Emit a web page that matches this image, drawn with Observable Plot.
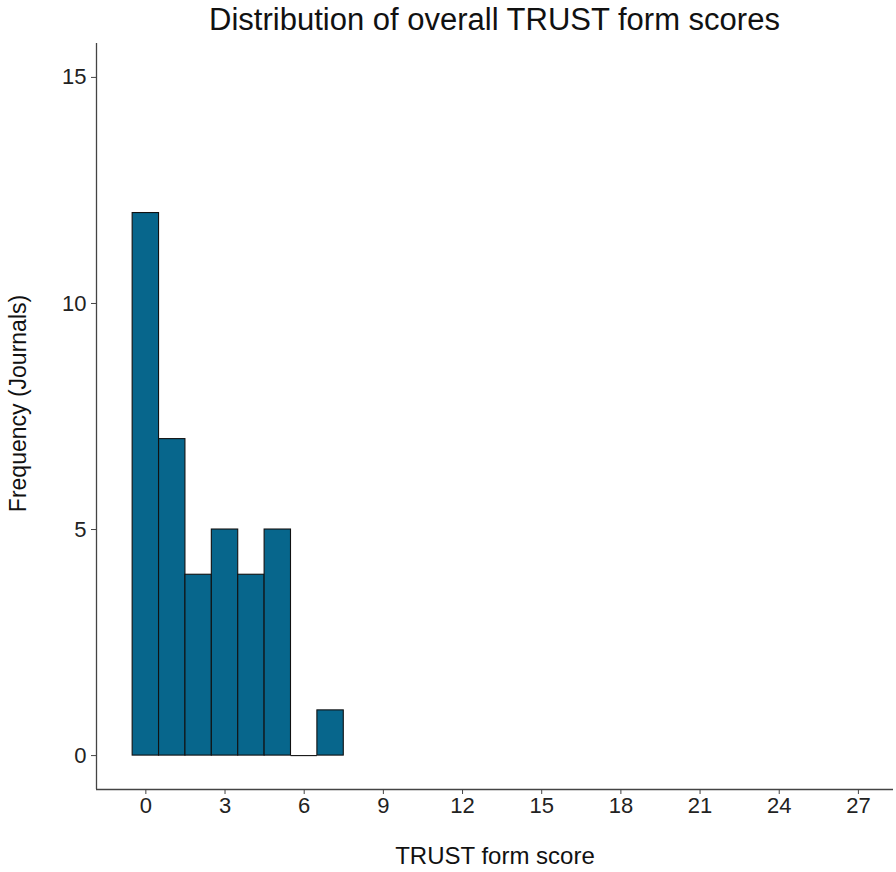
<!DOCTYPE html>
<html>
<head>
<meta charset="utf-8">
<script src="https://cdn.jsdelivr.net/npm/d3@7"></script>
<script src="https://cdn.jsdelivr.net/npm/@observablehq/plot@0.6"></script>
<style>
  html, body { margin: 0; padding: 0; background: #fff; }
  #wrap { width: 896px; height: 872px; position: relative; font-family: "Liberation Sans", Arial, sans-serif; }
  #title { height: 43px; line-height: 40px; font-size: 31px; color: #111; margin-left: 96px; width: 797px; text-align: center; white-space: nowrap; }
  svg { display: block; }
</style>
</head>
<body>
<div id="wrap">
  <div id="title">Distribution of overall TRUST form scores</div>
  <div id="chart"></div>
</div>
<script>
const title = "Distribution of overall TRUST form scores";
const xLabel = "TRUST form score";
const yLabel = "Frequency (Journals)";
const scores = [0, 1, 2, 3, 4, 5, 6, 7];
const counts = [12, 7, 4, 5, 4, 5, 0, 1];
const xTicks = [0, 3, 6, 9, 12, 15, 18, 21, 24, 27];
const yTicks = [0, 5, 10, 15];
const xDomain = [-1.87, 28.33];
const yDomain = [-0.75, 15.75];

const data = scores.map((s, i) => ({score: s, count: counts[i]}));
const barFill = "#07668c";

const chart = Plot.plot({
  width: 896,
  height: 829,
  marginLeft: 96,
  marginRight: 3,
  marginTop: 0,
  marginBottom: 83,
  style: {fontFamily: "'Liberation Sans', Arial, sans-serif", fontSize: "22px", color: "#222", background: "#fff"},
  x: {domain: xDomain},
  y: {domain: yDomain},
  marks: [
    Plot.rectY(data.filter(d => d.count > 0), {
      x1: d => d.score - 0.5, x2: d => d.score + 0.5, y1: 0, y2: "count",
      fill: barFill, stroke: "#111", strokeWidth: 1.1
    }),
    Plot.ruleY(data.filter(d => d.count === 0), {
      y: 0, x1: d => d.score - 0.5, x2: d => d.score + 0.5, stroke: "#111", strokeWidth: 1.1
    }),
    Plot.ruleX([xDomain[0]], {stroke: "#444", strokeWidth: 1.3}),
    Plot.ruleY([yDomain[0]], {stroke: "#444", strokeWidth: 1.3}),
    Plot.axisX(xTicks, {tickSize: 5, tickPadding: 3, fontSize: 22, label: null, stroke: "#444", fill: "#222"}),
    Plot.axisY(yTicks, {tickSize: 5, tickPadding: 5, fontSize: 22, label: null, stroke: "#444", fill: "#222"}),
    Plot.text([xLabel], {frameAnchor: "bottom", textAnchor: "middle", dy: 67, fontSize: 24, fill: "#111", lineAnchor: "middle"}),
    Plot.text([yLabel], {frameAnchor: "left", textAnchor: "middle", rotate: -90, dx: -77.7, dy: -13, fontSize: 23, fill: "#111", lineAnchor: "middle"})
  ]
});
document.getElementById("chart").appendChild(chart);
</script>
</body>
</html>
